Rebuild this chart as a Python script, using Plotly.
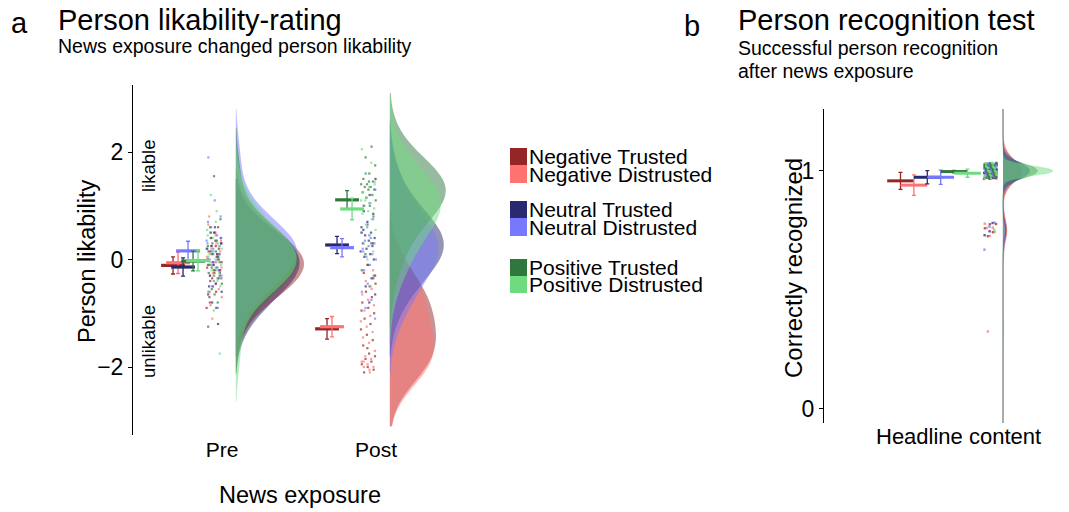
import plotly.graph_objects as go

W, H = 1069, 512
FONT = "Liberation Sans, Arial, Helvetica, sans-serif"

# ---------------- data ----------------
conditions = ["Negative Trusted", "Negative Distrusted", "Neutral Trusted",
              "Neutral Distrusted", "Positive Trusted", "Positive Distrusted"]
colors = ["#952626", "#FF7272", "#29296F", "#7878FF", "#2F773D", "#6FDB7F"]
time_labels = ["Pre", "Post"]

# Panel a: condition means and 95% CI half-widths
pre_means = [-0.11, -0.06, -0.14, 0.16, -0.03, -0.02]
pre_ci = [0.16, 0.20, 0.17, 0.18, 0.18, 0.19]
post_means = [-1.29, -1.25, 0.27, 0.22, 1.11, 0.94]
post_ci = [0.19, 0.19, 0.16, 0.17, 0.17, 0.20]

# Panel a: individual likability ratings
pre_neg_trusted = [-0.9, -0.6, -0.4, -0.3, -0.2, -0.1, 0.0, 0.1, 0.3, 0.5, -0.7, 0.2, -0.5,
                   -0.15, 0.05, 0.4, -0.2, -0.25, 0.15, 0.6, -0.35, -0.05, 0.25, -0.8, 0.1]
pre_neg_distrusted = [-1.1, -0.7, -0.45, -0.3, -0.2, -0.1, 0.0, 0.1, 0.2, 0.35, 0.5, 0.8, -0.55,
                      -0.25, 0.05, 0.3, -0.85, 0.15, -0.05, 0.65, -0.35, 0.25, -0.15, 0.45, -0.6]
pre_neu_trusted = [-1.2, -0.8, -0.6, -0.45, -0.3, -0.2, -0.1, 0.0, 0.1, 0.25, 0.4, 0.6, -0.5,
                   -0.35, -0.05, 0.2, -0.9, 0.15, -0.25, 0.5, -0.65, 0.05, -0.15, 0.3, 0.35]
pre_neu_distrusted = [1.9, -0.9, -0.5, -0.3, -0.15, 0.0, 0.1, 0.2, 0.3, 0.45, 0.6, 0.8, 1.1,
                      -0.6, -0.2, 0.15, 0.35, -0.05, 0.5, 0.25, -0.4, 0.7, 0.05, -0.1, 0.4]
pre_pos_trusted = [1.55, -1.25, -0.8, -0.55, -0.35, -0.2, -0.1, 0.0, 0.1, 0.2, 0.35, 0.5, 0.75,
                   -0.65, -0.25, 0.05, 0.3, -0.45, 0.15, 0.6, -0.05, -0.3, 0.25, -0.15, 0.4]
pre_pos_distrusted = [-1.75, -0.95, -0.6, -0.4, -0.2, -0.1, 0.0, 0.1, 0.25, 0.4, 0.55, 0.9, 1.2,
                      -0.5, -0.3, 0.05, 0.3, -0.15, 0.2, 0.7, -0.05, -0.25, 0.15, 0.45, -0.35]

post_neg_trusted = [-2.1, -2.05, -2.0, -1.95, -1.9, -1.85, -1.8, -1.75, -1.6, -1.5, -1.4, -1.3, -1.2,
                    -1.1, -1.0, -0.9, -0.8, -0.7, -0.6, -0.45, -0.5, -0.25, -0.35, -1.65, -0.95]
post_neg_distrusted = [-2.1, -2.0, -2.0, -1.95, -1.9, -1.85, -1.8, -1.7, -1.55, -1.45, -1.35, -1.25,
                       -1.15, -1.05, -0.95, -0.85, -0.75, -0.65, -0.55, -0.4, -0.3, -2.05, -1.9, -0.2, -0.1]
post_neu_trusted = [1.5, 1.2, 1.0, 0.85, 0.7, 0.6, 0.5, 0.45, 0.4, 0.35, 0.3, 0.25, 0.2, 0.15, 0.1,
                    0.05, 0.0, -0.1, -0.2, -0.35, -0.5, -0.65, -0.8, 0.55, 0.3]
post_neu_distrusted = [1.6, 1.3, 1.05, 0.9, 0.75, 0.6, 0.5, 0.4, 0.35, 0.3, 0.25, 0.2, 0.1, 0.05, 0.0,
                       -0.1, -0.2, -0.3, -0.45, -0.6, -0.75, -0.9, -1.1, 0.45, 0.15]
post_pos_trusted = [2.1, 1.9, 1.75, 1.6, 1.5, 1.45, 1.4, 1.4, 1.35, 1.35, 1.3, 1.3, 1.25, 1.2, 1.15,
                    1.1, 1.0, 0.9, 0.8, 0.65, 0.5, 0.3, 0.1, -0.3, 1.45]
post_pos_distrusted = [2.05, 1.8, 1.6, 1.45, 1.35, 1.25, 1.2, 1.15, 1.1, 1.05, 1.0, 0.95, 0.9, 0.85,
                       0.75, 0.65, 0.55, 0.45, 0.3, 0.15, 0.0, -0.2, -0.5, 1.1, 1.4]

pre_values = [pre_neg_trusted, pre_neg_distrusted, pre_neu_trusted,
              pre_neu_distrusted, pre_pos_trusted, pre_pos_distrusted]
post_values = [post_neg_trusted, post_neg_distrusted, post_neu_trusted,
               post_neu_distrusted, post_pos_trusted, post_pos_distrusted]

# Panel b: recognition means and CI half-widths
rec_means = [0.958, 0.94, 0.973, 0.973, 0.997, 0.99]
rec_ci = [0.036, 0.043, 0.028, 0.030, 0.005, 0.017]

# Panel b: proportion correctly recognized per participant
rec_neg_trusted = [1.0] * 25 + [0.75] * 5
rec_neg_distrusted = [1.0] * 24 + [0.75] * 5 + [0.33]
rec_neu_trusted = [1.0] * 27 + [0.75] * 3
rec_neu_distrusted = [1.0] * 27 + [0.75] * 2 + [0.67]
rec_pos_trusted = [1.0] * 30
rec_pos_distrusted = [1.0] * 29 + [0.75]
rec_values = [rec_neg_trusted, rec_neg_distrusted, rec_neu_trusted,
              rec_neu_distrusted, rec_pos_trusted, rec_pos_distrusted]


def rgba(h, a):
    h = h.lstrip("#")
    return "rgba(%d,%d,%d,%.3f)" % (int(h[0:2], 16), int(h[2:4], 16), int(h[4:6], 16), a)


def jit(k, i, a=0.6180339887, b=0.371):
    return (k * a + i * b) % 1.0


fig = go.Figure()

# ---------------- panel a ----------------
PXU = 154.0          # pixels per unit on the main x axis of panel a
POST_PXU = 127.0     # pixels per unit on the overlaid axis carrying the post densities
A_LEFT, A_RIGHT = 133, 470
bar_off = [-0.318 + 0.0325 * i for i in range(6)]
dot_lo, dot_hi = -0.1, 0.0
vio_off = 0.09
post_vio_x3 = (2.0 + vio_off - (1 - 89 / PXU)) * PXU / POST_PXU

for t_idx, (xc, vals_list, means, cis, bw, xa, vx) in enumerate([
        (1.0, pre_values, pre_means, pre_ci, 0.45, "x", 1.0 + vio_off),
        (2.0, post_values, post_means, post_ci, 0.50, "x3", post_vio_x3)]):
    # densities (equal area inside each time point)
    for i, vals in enumerate(vals_list):
        fig.add_trace(go.Violin(
            y=vals, x0=vx, side="positive", bandwidth=bw,
            scalegroup=time_labels[t_idx], scalemode="width", points=False,
            line=dict(width=0, color="rgba(0,0,0,0)"), fillcolor=rgba(colors[i], 0.5),
            box_visible=False, meanline_visible=False, hoverinfo="skip",
            showlegend=False, xaxis=xa, yaxis="y", name=conditions[i]))
for t_idx, (xc, vals_list, means, cis) in enumerate([
        (1.0, pre_values, pre_means, pre_ci),
        (2.0, post_values, post_means, post_ci)]):
    # jittered points
    for i, vals in enumerate(vals_list):
        xs = [xc + dot_lo + (dot_hi - dot_lo) * jit(k, i + 6 * t_idx) for k in range(len(vals))]
        fig.add_trace(go.Scatter(
            x=xs, y=vals, mode="markers",
            marker=dict(symbol="square", size=2.2, color=colors[i], opacity=0.7, line=dict(width=0)),
            showlegend=False, hoverinfo="y", xaxis="x", yaxis="y", name=conditions[i]))
    # means with CI
    for i in range(6):
        fig.add_trace(go.Scatter(
            x=[xc + bar_off[i]], y=[means[i]], mode="markers",
            marker=dict(symbol="line-ew", size=17, color=colors[i],
                        line=dict(width=3.2, color=colors[i])),
            error_y=dict(type="data", array=[cis[i]], visible=True, color=colors[i],
                         thickness=1.3, width=2),
            showlegend=False, xaxis="x", yaxis="y", name=conditions[i]))

# ---------------- panel b ----------------
BPX = 113.6  # pixels per x-unit in panel b
b_bar = [(900.5 + 13.4 * i - 824) / BPX for i in range(6)]
b_dot_lo, b_dot_hi = (984 - 824) / BPX, (997 - 824) / BPX
b_vio = (1003 - 824) / BPX
b_bw = [0.045, 0.05, 0.035, 0.035, 0.03, 0.02]

for i, vals in enumerate(rec_values):
    fig.add_trace(go.Violin(
        y=vals, x0=b_vio, side="positive", bandwidth=b_bw[i],
        scalegroup="recognition", scalemode="width", points=False,
        spanmode="manual", span=[-0.06, 1.26],
        line=dict(width=0.8, color=rgba(colors[i], 0.35)), fillcolor=rgba(colors[i], 0.5),
        box_visible=False, meanline_visible=False, hoverinfo="skip",
        showlegend=False, xaxis="x2", yaxis="y2", name=conditions[i]))

for i, vals in enumerate(rec_values):
    xs = [b_dot_lo + (b_dot_hi - b_dot_lo) * jit(k, i) for k in range(len(vals))]
    ys = [v + (jit(k, i, 0.7548776662, 0.53) - 0.5) * 0.068 for k, v in enumerate(vals)]
    fig.add_trace(go.Scatter(
        x=xs, y=ys, mode="markers",
        marker=dict(symbol="square", size=2.4, color=colors[i], opacity=0.75, line=dict(width=0)),
        showlegend=False, hoverinfo="skip", xaxis="x2", yaxis="y2", name=conditions[i]))

for i in range(6):
    fig.add_trace(go.Scatter(
        x=[b_bar[i]], y=[rec_means[i]], mode="markers",
        marker=dict(symbol="line-ew", size=19, color=colors[i],
                    line=dict(width=3.0, color=colors[i])),
        error_y=dict(type="data", array=[rec_ci[i]], visible=True, color=colors[i],
                     thickness=1.3, width=2),
        showlegend=False, xaxis="x2", yaxis="y2", name=conditions[i]))

# ---------------- layout ----------------
ax_font = dict(family=FONT, size=23, color="black")

fig.update_layout(
    width=W, height=H, margin=dict(l=0, r=0, t=0, b=0),
    paper_bgcolor="white", plot_bgcolor="white",
    violinmode="overlay", violingap=0.12, violingroupgap=0, showlegend=False,
    font=dict(family=FONT, color="black"),
    xaxis=dict(domain=[A_LEFT / W, A_RIGHT / W],
               range=[1 - 89 / PXU, 1 - 89 / PXU + (A_RIGHT - A_LEFT) / PXU],
               tickvals=[1, 2], ticktext=time_labels, tickfont=dict(family=FONT, size=21),
               ticks="", showline=False, showgrid=False, zeroline=False, automargin=False,
               ticklabelstandoff=0, fixedrange=True),
    xaxis3=dict(overlaying="x", anchor="y", range=[0, (A_RIGHT - A_LEFT) / POST_PXU],
                visible=False, showgrid=False, zeroline=False, fixedrange=True),
    yaxis=dict(domain=[1 - 435 / H, 1 - 85 / H],
               range=[-(435 - 259.5) / 53.75, (259.5 - 85) / 53.75],
               tickvals=[-2, 0, 2], ticktext=["\u22122", "0", "2"], tickfont=ax_font,
               ticks="outside", ticklen=4, tickcolor="black", tickwidth=1,
               showline=True, linecolor="black", linewidth=1,
               showgrid=False, zeroline=False, automargin=False, fixedrange=True),
    xaxis2=dict(domain=[824 / W, 1.0], range=[0, (W - 824) / BPX], anchor="y2",
                showticklabels=False, ticks="", showline=False, showgrid=False,
                zeroline=False, automargin=False, fixedrange=True),
    yaxis2=dict(domain=[1 - 423 / H, 1 - 109 / H], range=[-0.06, 1.26], anchor="x2",
                tickvals=[0, 1], ticktext=["0", "1"], tickfont=ax_font,
                ticks="outside", ticklen=4, tickcolor="black", tickwidth=1,
                showline=True, linecolor="black", linewidth=1,
                showgrid=False, zeroline=False, automargin=False, fixedrange=True),
)

ann = []
shapes = []


def text(s, x, y, size, xanchor="left", angle=0):
    ann.append(dict(text=s, x=x / W, y=1 - y / H, xref="paper", yref="paper",
                    xanchor=xanchor, yanchor="middle", showarrow=False, textangle=angle,
                    font=dict(family=FONT, size=size, color="black")))


text("a", 9, 23, 29)
text("Person likability-rating", 56, 20, 29)
text("News exposure changed person likability", 56, 46, 19.5)
text("b", 682, 26, 29)
text("Person recognition test", 736, 20, 29)
text("Successful person recognition", 736, 48, 19.5)
text("after news exposure", 736, 71, 19.5)

text("Person likability", 87, 261, 23.5, "center", -90)
text("likable", 148, 166, 18.5, "center", -90)
text("unlikable", 148, 342, 18.5, "center", -90)
text("News exposure", 300, 495, 23.5, "center")
text("Correctly recognized", 793, 268, 24, "center", -90)
text("Headline content", 958, 436, 22, "center")

# legend
leg_rows = [(148, 165), (165, 183), (201, 218), (218, 236), (259, 276), (276, 293)]
for i, (y0, y1) in enumerate(leg_rows):
    shapes.append(dict(type="rect", xref="paper", yref="paper",
                       x0=510 / W, x1=527 / W, y0=1 - y1 / H, y1=1 - y0 / H,
                       fillcolor=colors[i], line=dict(width=0)))
    text(conditions[i], 527, (y0 + y1) / 2, 21)

fig.update_layout(annotations=ann, shapes=shapes)

fig.write_html("out.html", config={"displayModeBar": False},
               post_script="document.body.style.margin='0';document.body.style.padding='0';")
